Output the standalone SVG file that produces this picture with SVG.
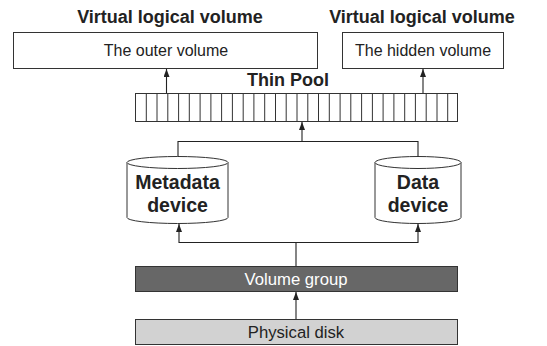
<svg xmlns="http://www.w3.org/2000/svg" width="547" height="346" viewBox="0 0 547 346">
<style>
.box{fill:#fff;stroke:#333;stroke-width:1}
.t{font-family:"Liberation Sans",Arial,sans-serif;fill:#222;text-anchor:middle}
.b{font-weight:bold}
.c{fill:none;stroke:#222;stroke-width:1.1}
</style>
<defs>
<marker id="ah" markerUnits="userSpaceOnUse" markerWidth="8" markerHeight="10" refX="8" refY="3" orient="auto">
<path d="M0,0 L8,3 L0,6 Z" fill="#222"/>
</marker>
</defs>
<rect width="547" height="346" fill="#fff"/>
<g id="outer-volume">
<text class="t b" x="170" y="23" font-size="18">Virtual logical volume</text>
<rect class="box" x="13.5" y="32.5" width="304" height="36"/>
<text class="t" x="166" y="56" font-size="16">The outer volume</text>
</g>
<g id="hidden-volume">
<text class="t b" x="422" y="23" font-size="18">Virtual logical volume</text>
<rect class="box" x="342.5" y="32.5" width="161" height="36"/>
<text class="t" x="423" y="56" font-size="16">The hidden volume</text>
</g>
<g id="thin-pool">
<text class="t b" x="288" y="86" font-size="18">Thin Pool</text>
<rect class="box" x="135.5" y="93.5" width="322" height="28"/>
<path stroke="#333" stroke-width="1" fill="none" d="M146.3,93.5V121.5M157.0,93.5V121.5M167.8,93.5V121.5M178.6,93.5V121.5M189.3,93.5V121.5M200.1,93.5V121.5M210.9,93.5V121.5M221.6,93.5V121.5M232.4,93.5V121.5M243.2,93.5V121.5M253.9,93.5V121.5M264.7,93.5V121.5M275.5,93.5V121.5M286.2,93.5V121.5M297.0,93.5V121.5M307.8,93.5V121.5M318.5,93.5V121.5M329.3,93.5V121.5M340.1,93.5V121.5M350.8,93.5V121.5M361.6,93.5V121.5M372.4,93.5V121.5M383.1,93.5V121.5M393.9,93.5V121.5M404.7,93.5V121.5M415.4,93.5V121.5M426.2,93.5V121.5M437.0,93.5V121.5M447.7,93.5V121.5"/>
</g>
<g id="metadata-device">
<path class="box" d="M127,162.5 V217.5 A50.5,6 0 0 0 228,217.5 V162.5"/>
<ellipse class="box" cx="177.5" cy="162.5" rx="50.5" ry="6"/>
<text class="t b" x="177.5" y="189" font-size="19.5">Metadata</text>
<text class="t b" x="177.5" y="212" font-size="19.5">device</text>
</g>
<g id="data-device">
<path class="box" d="M375,162.5 V217.5 A43,6 0 0 0 461,217.5 V162.5"/>
<ellipse class="box" cx="418" cy="162.5" rx="43" ry="6"/>
<text class="t b" x="418" y="189" font-size="19.5">Data</text>
<text class="t b" x="418" y="212" font-size="19.5">device</text>
</g>
<g id="volume-group">
<rect x="135.5" y="266.5" width="322" height="25" fill="#676767" stroke="#333" stroke-width="1"/>
<text class="t" x="296" y="284.5" font-size="16.7" style="fill:#fff">Volume group</text>
</g>
<g id="physical-disk">
<rect x="135.5" y="319.5" width="322" height="25" fill="#d2d2d2" stroke="#333" stroke-width="1"/>
<text class="t" x="296" y="337.5" font-size="16.7">Physical disk</text>
</g>
<g id="connectors">
<path class="c" d="M166.5,93 V69" marker-end="url(#ah)"/>
<path class="c" d="M423,93 V69" marker-end="url(#ah)"/>
<path class="c" d="M178,156.5 V141.5 H418 V156.5"/>
<path class="c" d="M302,141.5 V122" marker-end="url(#ah)"/>
<path class="c" d="M296,266 V242.5 H179 V224" marker-end="url(#ah)"/>
<path class="c" d="M296,242.5 H418 V224" marker-end="url(#ah)"/>
<path class="c" d="M296,319 V292" marker-end="url(#ah)"/>
</g>
</svg>
